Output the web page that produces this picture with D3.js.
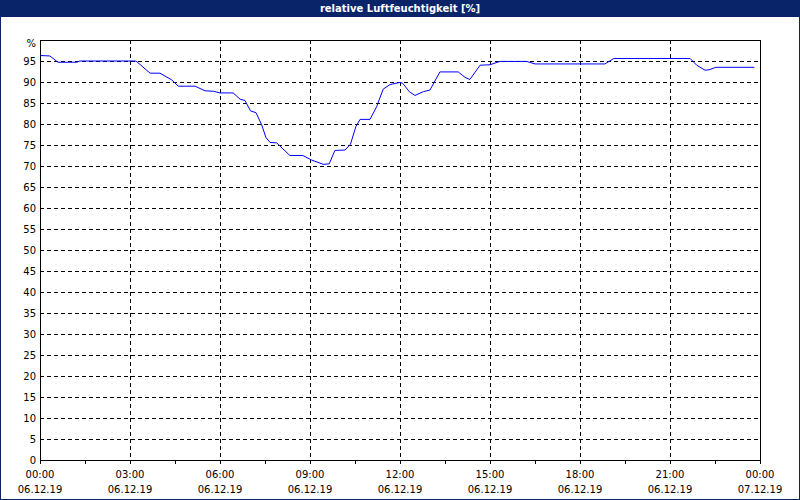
<!DOCTYPE html><html><head><meta charset="utf-8">
<script src="https://cdn.jsdelivr.net/npm/d3@7"></script>
<style>body{margin:0;background:#fff}text{font-family:"DejaVu Sans",sans-serif;font-size:10px}</style></head>
<body><svg id="c" width="800" height="500"></svg>
<script>
const title = "relative Luftfeuchtigkeit [%]";
const hours = [0.03,0.33,0.6,1.22,1.33,3.2,3.67,4.0,4.39,4.61,5.17,5.5,5.78,6.0,6.44,6.67,6.83,7.02,7.2,7.39,7.53,7.67,7.89,8.33,8.76,9.06,9.44,9.64,9.83,10.17,10.35,10.53,10.67,11.0,11.22,11.44,11.67,12.0,12.09,12.31,12.5,12.78,13.0,13.33,13.94,14.17,14.33,14.67,15.0,15.33,16.22,16.5,18.83,19.13,21.67,21.89,22.17,22.3,22.53,23.81];
const humidity = [96.3,96.2,94.7,94.7,95,95,92.1,92.1,90.5,89,89,87.9,87.8,87.4,87.4,85.9,85.6,83.1,82.7,79.8,76.8,75.6,75.5,72.5,72.5,71.4,70.4,70.5,73.7,73.8,75.2,79.4,81.1,81.1,84.1,88.3,89.4,89.9,89.7,87.7,86.8,87.7,88.1,92.4,92.4,91.1,90.6,94.0,94.1,94.9,94.9,94.3,94.3,95.6,95.6,94.0,92.8,92.9,93.5,93.5];
const xTicks = [0,3,6,9,12,15,18,21,24];
const timeLabels = ["00:00","03:00","06:00","09:00","12:00","15:00","18:00","21:00","00:00"];
const dateLabels = ["06.12.19","06.12.19","06.12.19","06.12.19","06.12.19","06.12.19","06.12.19","06.12.19","07.12.19"];
const yTicks = d3.range(0,100,5);

const svg = d3.select("#c");
const x = d3.scaleLinear().domain([0,24]).range([40,760]);
const y = d3.scaleLinear().domain([0,100]).range([460,40]);
svg.append("rect").attr("x",0.5).attr("y",0.5).attr("width",799).attr("height",499).attr("fill","#fff").attr("stroke","#0a246a");
svg.append("rect").attr("x",0).attr("y",0).attr("width",800).attr("height",17).attr("fill","#0a246a");
svg.append("text").attr("x",400).attr("y",12).attr("text-anchor","middle").attr("fill","#fff").attr("font-weight","bold").text(title);
const g = svg.append("g").attr("shape-rendering","crispEdges");
g.selectAll(".h").data(yTicks.filter(d=>d>0)).join("line").attr("x1",40).attr("x2",760).attr("y1",d=>Math.round(y(d))+0.5).attr("y2",d=>Math.round(y(d))+0.5).attr("stroke","#000").attr("stroke-dasharray","4,3");
g.selectAll(".v").data(xTicks.slice(1,-1)).join("line").attr("y1",40).attr("y2",460).attr("x1",d=>x(d)+0.5).attr("x2",d=>x(d)+0.5).attr("stroke","#000").attr("stroke-dasharray","4,3");
g.append("path").attr("d","M40.5,40.5H760.5V460.5").attr("fill","none").attr("stroke","#000");
g.append("line").attr("x1",40.5).attr("x2",40.5).attr("y1",40).attr("y2",461).attr("stroke","#000");
g.append("line").attr("x1",40).attr("x2",761).attr("y1",460.5).attr("y2",460.5).attr("stroke","#000");
g.selectAll(".mt").data(d3.range(0,24.01,1.5)).join("line").attr("x1",d=>x(d)+0.5).attr("x2",d=>x(d)+0.5).attr("y1",460).attr("y2",464).attr("stroke","#000");
svg.selectAll(".yl").data(yTicks).join("text").attr("x",36).attr("y",d=>y(d)+4).attr("text-anchor","end").text(d=>d);
svg.append("text").attr("x",36).attr("y",y(100)+7).attr("text-anchor","end").text("%");
svg.selectAll(".tl").data(xTicks).join("text").attr("x",d=>x(d)).attr("y",478).attr("text-anchor","middle").text((d,i)=>timeLabels[i]);
svg.selectAll(".dl").data(xTicks).join("text").attr("x",d=>x(d)).attr("y",493).attr("text-anchor","middle").text((d,i)=>dateLabels[i]);
const line = d3.line().x((d,i)=>x(hours[i])).y(d=>y(d));
svg.append("path").datum(humidity).attr("d",line).attr("fill","none").attr("stroke","#0000ff").attr("stroke-width",1);
</script></body></html>
